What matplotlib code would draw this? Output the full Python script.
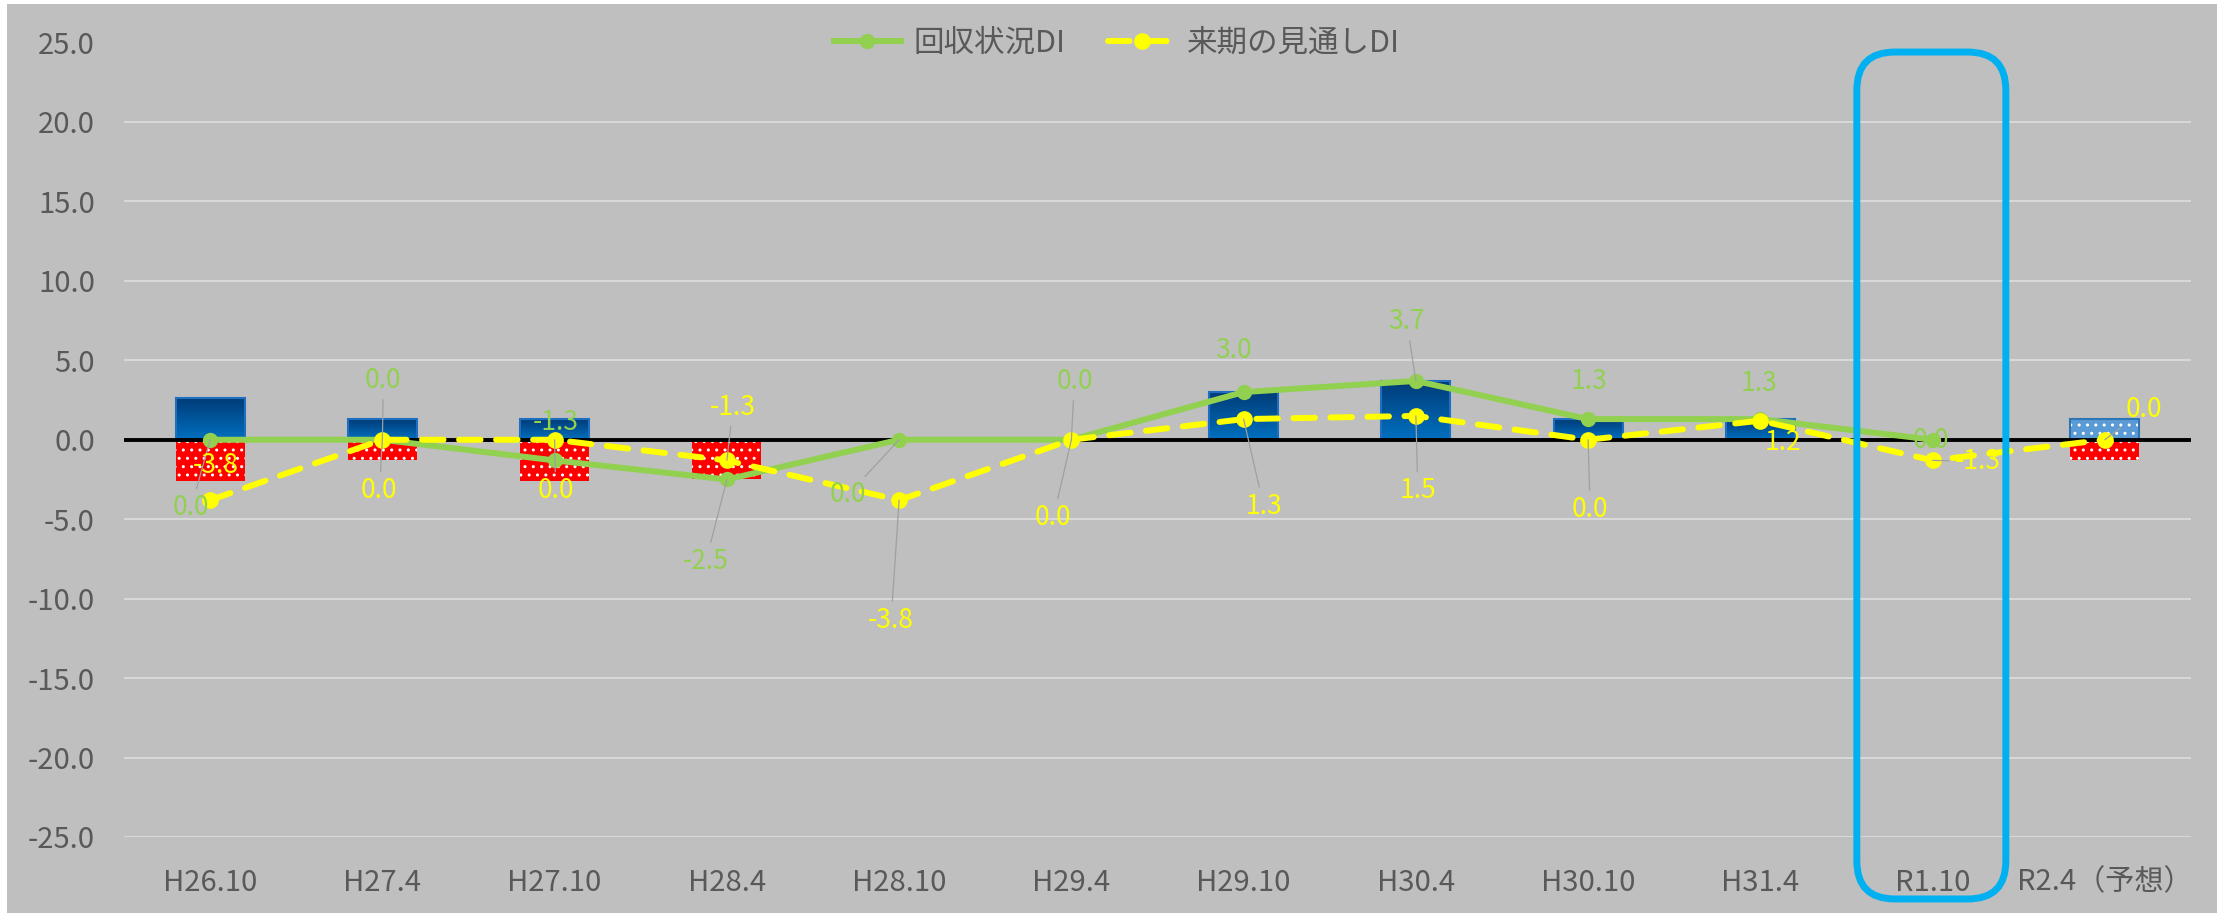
import numpy as np
import matplotlib
matplotlib.use('Agg')
import matplotlib.pyplot as plt
from matplotlib.colors import LinearSegmentedColormap
from matplotlib.patches import FancyBboxPatch, Rectangle
from matplotlib.transforms import IdentityTransform
from matplotlib.ticker import FormatStrFormatter

# data
categories = ['H26.10', 'H27.4', 'H27.10', 'H28.4', 'H28.10', 'H29.4',
              'H29.10', 'H30.4', 'H30.10', 'H31.4', 'R1.10', 'R2.4（予想）']
improve = [2.6, 1.3, 1.3, 0.0, 0.0, 0.0, 3.0, 3.7, 1.3, 1.3, 0.0, 1.3]
worsen = [-2.6, -1.3, -2.6, -2.5, 0.0, 0.0, 0.0, 0.0, 0.0, 0.0, 0.0, -1.3]
kaishu_di = [0.0, 0.0, -1.3, -2.5, 0.0, 0.0, 3.0, 3.7, 1.3, 1.3, 0.0, np.nan]
mitoshi_di = [-3.8, 0.0, 0.0, -1.3, -3.8, 0.0, 1.3, 1.5, 0.0, 1.2, -1.3, 0.0]
forecast_idx = 11
highlight_idx = 10

# label offsets in pixels (dx, dy), up is positive
kaishu_off = [(-19, -68), (1, 59), (1, 38), (-21, -82), (-51, -55), (3, 58),
              (-10, 42), (-9, 59), (1, 38), (-1, 36), (-2, -1), (0, 0)]
mitoshi_off = [(6, 35), (-3, -51), (1, -51), (6, 53), (-8, -120), (-18, -78),
               (20, -87), (2, -75), (2, -70), (23, -22), (45, -1), (39, 30)]

plt.rcParams['font.family'] = ['Liberation Sans Narrow', 'Noto Sans CJK JP']

W, H = 2224, 915
fig = plt.figure(figsize=(W / 100, H / 100), dpi=100, facecolor='white')
fig.add_artist(Rectangle((7, 2), 2210, 909, transform=IdentityTransform(),
                         facecolor='#BFBFBF', edgecolor='none', zorder=-10))

ax = fig.add_axes([124 / W, 1 - 837 / H, (2191 - 124) / W, (837 - 42.5) / H])
ax.set_facecolor('none')
for s in ax.spines.values():
    s.set_visible(False)

x = np.arange(len(categories))
bw = 0.4
blue_cmap = LinearSegmentedColormap.from_list('bl', ['#003C78', '#0070C0'])
grad = np.linspace(0, 1, 64).reshape(-1, 1)

for i, v in enumerate(improve):
    if v <= 0:
        continue
    if i == forecast_idx:
        ax.bar(i, v, bw, color='#5B9BD5', edgecolor='white', lw=0, hatch='..', zorder=2)
        ax.bar(i, v, bw, fill=False, edgecolor='#2E75B6', lw=1.5, zorder=2)
    else:
        ax.imshow(grad, cmap=blue_cmap, aspect='auto', origin='upper',
                  extent=(i - bw / 2, i + bw / 2, 0, v), zorder=2)
        ax.bar(i, v, bw, fill=False, edgecolor='#1F6FC0', lw=1.5, zorder=2)

ax.bar(x, worsen, bw, color='#FF0000', edgecolor='white', lw=0, hatch='..', zorder=2)

ax.axhline(0, color='black', lw=2.8, zorder=3)

ax.plot(x, kaishu_di, color='#92D050', lw=4.3, marker='o', ms=10,
        zorder=4, label='回収状況DI')
ax.plot(x, mitoshi_di, color='#FFFF00', lw=4.3, ls=(0, (3.6, 2.6)),
        dash_capstyle='round', marker='o', ms=11, zorder=5, label='来期の見通しDI')


def add_labels(vals, offs, color):
    for i, v in enumerate(vals):
        if np.isnan(v):
            continue
        dx, dy = offs[i]
        arrow = None
        if np.hypot(dx, dy) > 45:
            arrow = dict(arrowstyle='-', color='#A0A0A0', lw=0.9, shrinkA=2, shrinkB=0)
        ax.annotate(f'{v:.1f}', (i, v), xytext=(dx, dy), textcoords='offset pixels',
                    ha='center', va='center', color=color, fontsize=19,
                    arrowprops=arrow, zorder=6)


add_labels(kaishu_di, kaishu_off, '#92D050')
add_labels(mitoshi_di, mitoshi_off, '#FFFF00')

ax.set_xlim(-0.5, len(categories) - 0.5)
ax.set_ylim(-25, 25)
ax.set_yticks(np.arange(-25, 26, 5))
ax.yaxis.set_major_formatter(FormatStrFormatter('%.1f'))
ax.set_xticks(x, categories)
ax.yaxis.grid(True, color='#D9D9D9', lw=1.4)
ax.set_axisbelow(True)
ax.tick_params(axis='x', length=0, pad=22, labelsize=21, labelcolor='#595959')
ax.tick_params(axis='y', length=0, pad=21, labelsize=21, labelcolor='#595959')

# highlight box around R1.10
x0, y0 = ax.transData.transform((highlight_idx - 0.44, -28.9))
x1, y1 = ax.transData.transform((highlight_idx + 0.425, 24.4))
box = FancyBboxPatch((x0, y0), x1 - x0, y1 - y0, boxstyle='round,pad=0,rounding_size=38',
                     transform=IdentityTransform(), fill=False, edgecolor='#00B0F0',
                     lw=5, zorder=10)
fig.add_artist(box)

fig.legend(loc='center', bbox_to_anchor=(1117 / W, 1 - 43 / H), ncol=2, frameon=False,
           prop={'family': 'Noto Sans CJK JP', 'size': 22}, labelcolor='#595959',
           handlelength=2.2, handletextpad=0.4, columnspacing=1.4)

fig.savefig('out.png', dpi=100, facecolor=fig.get_facecolor())
